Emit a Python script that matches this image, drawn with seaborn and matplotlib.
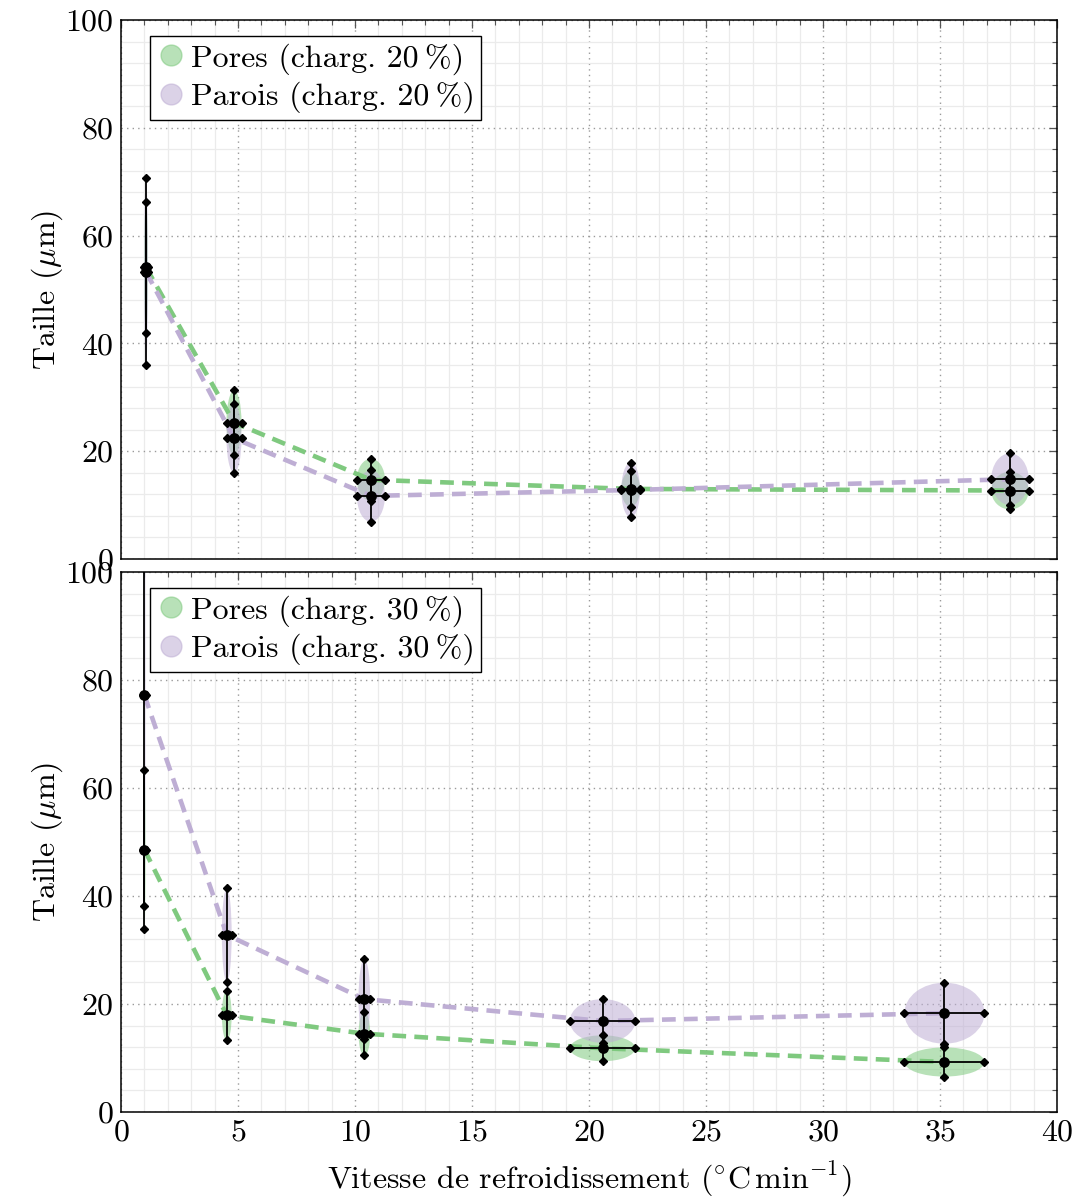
import numpy as np
import pandas as pd
import matplotlib
matplotlib.use("Agg")
import matplotlib.pyplot as plt
from matplotlib.patches import Ellipse
from matplotlib.lines import Line2D
from matplotlib.ticker import MultipleLocator
import seaborn as sns

# ---------------- data ----------------
# Charge 20 %
x_20 = [1.07, 4.83, 10.68, 21.78, 37.99]
x_20_err = [0.08, 0.32, 0.6, 0.4, 0.8]
pores_20 = [54.1, 25.3, 14.7, 13.0, 12.7]
pores_20_err = [12.2, 6.0, 3.9, 3.3, 3.5]
parois_20 = [53.3, 22.4, 11.7, 12.8, 14.8]
parois_20_err = [17.3, 6.4, 4.8, 5.1, 4.8]

# Charge 30 %
x_30 = [1.0, 4.52, 10.4, 20.58, 35.19]
x_30_err = [0.05, 0.21, 0.25, 1.4, 1.71]
pores_30 = [48.6, 17.9, 14.5, 11.8, 9.26]
pores_30_err = [14.7, 4.6, 4.0, 2.4, 2.7]
parois_30 = [77.2, 32.8, 20.9, 16.85, 18.3]
parois_30_err = [39.1, 8.65, 7.4, 4.05, 5.65]

x_ticks = [0, 5, 10, 15, 20, 25, 30, 35, 40]
y_ticks = [0, 20, 40, 60, 80, 100]

pal = sns.color_palette("Accent", 3)
GREEN = pal[0]
PURPLE = pal[1]

# ---------------- style ----------------
sns.set_theme(style="white")
plt.rcParams["font.family"] = ["cmr10", "DejaVu Serif"]
plt.rcParams["mathtext.fontset"] = "cm"
plt.rcParams["axes.formatter.use_mathtext"] = True
plt.rcParams["axes.unicode_minus"] = False
plt.rcParams["text.color"] = "black"
plt.rcParams["axes.labelcolor"] = "black"

FS = 23

fig = plt.figure(figsize=(10.74, 12.0), dpi=100)
L, R = 121 / 1074, 1057 / 1074
ax_top = fig.add_axes([L, 1 - 559 / 1200, R - L, (559 - 20) / 1200])
ax_bot = fig.add_axes([L, 1 - 1112 / 1200, R - L, (1112 - 572) / 1200])


def draw_panel(ax, xs, xerr, pores, pores_err, parois, parois_err, charge, show_xlabels):
    # ellipses (std in x and y)
    for (xc, xe, yc, ye, col) in zip(xs * 2, xerr * 2, pores + parois,
                                     pores_err + parois_err,
                                     [GREEN] * len(xs) + [PURPLE] * len(xs)):
        e = Ellipse((xc, yc), width=2 * xe, height=2 * ye, facecolor=col,
                    edgecolor="none", alpha=0.55, zorder=2)
        ax.add_patch(e)

    df = pd.DataFrame({"x": xs, "pores": pores, "parois": parois})
    sns.lineplot(data=df, x="x", y="pores", ax=ax, color=GREEN, lw=3.3,
                 linestyle=(0, (3, 1.8)), zorder=3, sort=False)
    sns.lineplot(data=df, x="x", y="parois", ax=ax, color=PURPLE, lw=3.3,
                 linestyle=(0, (3, 1.8)), zorder=3, sort=False)

    for ys, ye in ((pores, pores_err), (parois, parois_err)):
        eb = ax.errorbar(xs, ys, yerr=ye, xerr=xerr, fmt="none", ecolor="black",
                         elinewidth=1.3, capsize=3, zorder=4)
        for cap in eb[1]:
            cap.set_marker("D")
            cap.set_markersize(4)
            cap.set_markerfacecolor("black")
            cap.set_markeredgecolor("black")
        sns.scatterplot(x=xs, y=ys, ax=ax, color="black", s=60, zorder=5,
                        edgecolor="black", linewidth=0)

    ax.set_xlim(0, 40)
    ax.set_ylim(0, 100)
    ax.xaxis.set_minor_locator(MultipleLocator(1))
    ax.yaxis.set_minor_locator(MultipleLocator(4))
    ax.set_xticks(x_ticks)
    ax.set_yticks(y_ticks)
    ax.grid(which="minor", color="#ebebeb", lw=0.9, ls="-", zorder=0)
    ax.grid(which="major", color="#9a9a9a", lw=1.0, ls=(0, (1, 3)), zorder=0)
    ax.set_axisbelow(True)
    ax.tick_params(which="both", direction="in", top=True, right=True,
                   color="#555555", labelsize=FS, labelcolor="black")
    ax.tick_params(which="major", length=6, width=0.9, pad=5)
    ax.tick_params(which="minor", length=3.5, width=0.8)
    for sp in ax.spines.values():
        sp.set_color("black")
        sp.set_linewidth(1.1)
    ax.set_facecolor("white")
    ax.set_ylabel(r"Taille ($\mu$m)", fontsize=FS, labelpad=0)
    if show_xlabels:
        ax.set_xlabel(r"Vitesse de refroidissement ($^{\circ}$C$\,$min$^{-1}$)",
                      fontsize=FS, labelpad=10)
    else:
        ax.set_xlabel("")
        ax.tick_params(labelbottom=False)

    handles = [
        Line2D([], [], marker="o", ls="none", markersize=15, markerfacecolor=GREEN,
               markeredgecolor=GREEN, alpha=0.55),
        Line2D([], [], marker="o", ls="none", markersize=15, markerfacecolor=PURPLE,
               markeredgecolor=PURPLE, alpha=0.55),
    ]
    labels = [f"Pores (charg. {charge}\u2009%)", f"Parois (charg. {charge}\u2009%)"]
    leg = ax.legend(handles, labels, loc="upper left", bbox_to_anchor=(0.031, 0.97),
                    fontsize=FS, frameon=True, fancybox=False, framealpha=1,
                    edgecolor="black", handletextpad=0.15, handlelength=0.9,
                    borderpad=0.22, labelspacing=0.22, borderaxespad=0)
    leg.get_frame().set_linewidth(1.0)


draw_panel(ax_top, x_20, x_20_err, pores_20, pores_20_err, parois_20, parois_20_err,
           20, False)
draw_panel(ax_bot, x_30, x_30_err, pores_30, pores_30_err, parois_30, parois_30_err,
           30, True)

fig.savefig("out.png", dpi=100)
